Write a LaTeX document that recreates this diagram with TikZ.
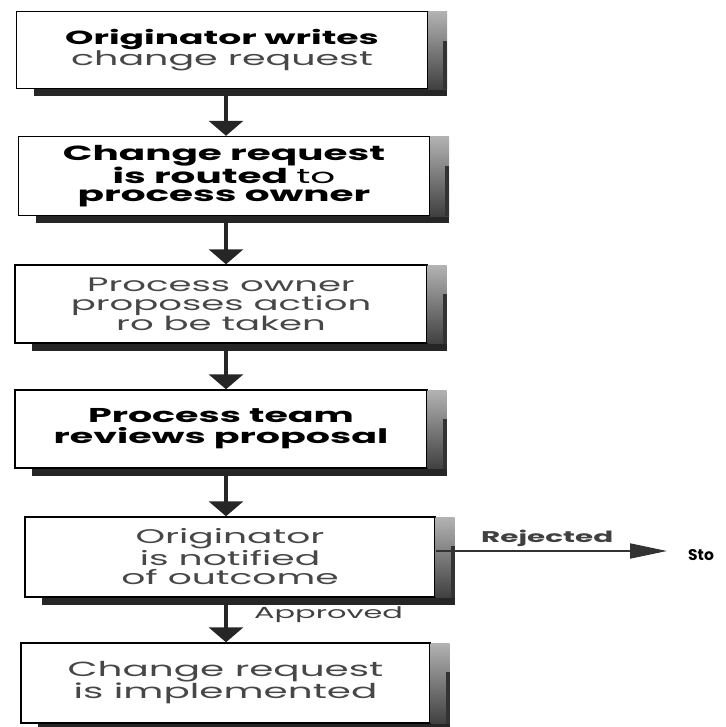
\documentclass[tikz,border=0pt]{standalone}
\usepackage{fontspec}
\setmainfont{Poppins}[FakeStretch=1.9]
\newfontfamily\plainfont{Poppins}
\usetikzlibrary{arrows.meta,calc}

% drop shadow: dark strip below, graded strip on the right
\newcommand\boxshade[1]{%
  \fill[black!85] ($(#1.south west)+(18,0)$) rectangle ($(#1.south east)+(19,7)$);
  \shade[top color=black!30, bottom color=black!75]
    ($(#1.north east)+(0,1)$) rectangle ($(#1.south east)+(19,0)$);
  \fill[black!80] ($(#1.north east)+(15,30)$) rectangle ($(#1.south east)+(19,0)$);
}
\newcommand\fsz[2]{\fontsize{#1}{#2}\selectfont}

\begin{document}
\begin{tikzpicture}[x=1pt,y=-1pt,
  stepbox/.style={draw=black, line width=1.4pt, fill=white, inner sep=0pt,
    align=center},
  heavy/.style={text=black},
  light/.style={text=black!72},
  flow/.style={line width=4pt, draw=black!85,
    -{Triangle[width=34pt,length=15pt]}, shorten <=7pt},
  branch/.style={line width=1.8pt, draw=black!80,
    -{Triangle[width=15pt,length=37pt]}},
  tag/.style={text=black!75, inner sep=0pt, anchor=west},
]
\useasboundingbox (0,0) rectangle (725,727);

\coordinate (axis) at (226,0);

\node[stepbox, heavy, minimum width=411pt, minimum height=77pt,
  font=\bfseries\fsz{19}{18}] (b1) at (222,50)
  {Originator writes\\{\mdseries\fsz{20}{18}\color{black!72}change request}};
\node[stepbox, heavy, minimum width=411pt, minimum height=79pt,
  font=\bfseries\fsz{20.5}{18.5}] (b2) at (224,176)
  {Change request\\is routed {\mdseries to}\\process owner};
\node[stepbox, light, minimum width=412pt, minimum height=78pt,
  font=\fsz{19.5}{19.5}] (b3) at (221,304)
  {Process owner\\proposes action\\ro be taken};
\node[stepbox, heavy, minimum width=412pt, minimum height=78pt,
  font=\bfseries\fsz{20}{21}] (b4) at (221,429)
  {Process team\\reviews proposal};
\node[stepbox, light, minimum width=410pt, minimum height=80pt,
  font=\fsz{19.8}{19.5}] (b5) at (230,557)
  {Originator\\is notified\\of outcome};
\node[stepbox, light, minimum width=409pt, minimum height=80pt,
  font=\fsz{20.5}{20.5}] (b6) at (225.5,683)
  {Change request\\is implemented};

\foreach \b in {b1,b2,b3,b4,b5,b6} {\boxshade{\b}}

\draw[flow] (b1.south -| axis) -- (b2.north -| axis);
\draw[flow] (b2.south -| axis) -- (b3.north -| axis);
\draw[flow] (b3.south -| axis) -- (b4.north -| axis);
\draw[flow] (b4.south -| axis) -- (b5.north -| axis);
\draw[flow] (b5.south -| axis) -- (b6.north -| axis);

\node[font=\plainfont\bfseries\fsz{15.5}{15.5}, inner sep=0pt, anchor=west]
  (stop) at (688,555) {Sto};
\draw[branch] ($(b5.east)+(0,-6)$) -- ($(stop.west)+(-21,-4)$);

\node[tag, font=\bfseries\fsz{15.5}{15.5}] (rej) at (481,538) {Rejected};
\node[tag, font=\fsz{16}{16}] (app) at (254,615) {Approved};
\end{tikzpicture}
\end{document}
